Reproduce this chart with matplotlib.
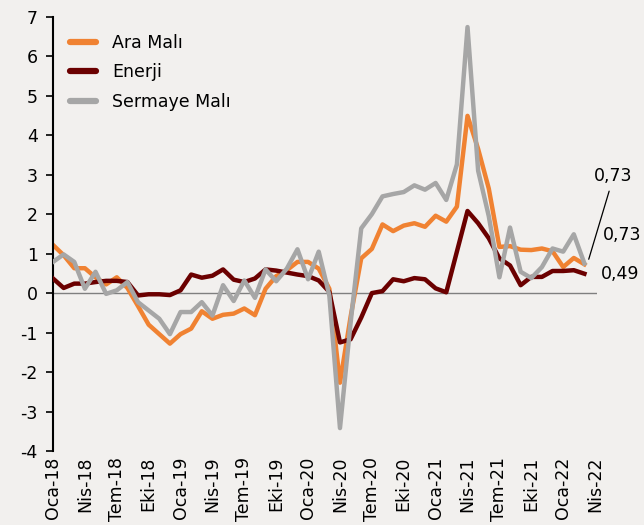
import numpy as np
import matplotlib
matplotlib.use("Agg")
import matplotlib.pyplot as plt

# monthly values, Oca-18 .. Mar-22
ara_mali = [1.22, 0.96, 0.63, 0.63, 0.40, 0.22, 0.40, 0.13, -0.33, -0.80,
            -1.04, -1.28, -1.04, -0.90, -0.46, -0.65, -0.55, -0.52, -0.39, -0.56,
            0.11, 0.43, 0.58, 0.79, 0.79, 0.62, 0.11, -2.27, -0.60, 0.88,
            1.12, 1.74, 1.57, 1.71, 1.77, 1.68, 1.96, 1.81, 2.19, 4.49,
            3.65, 2.65, 1.17, 1.19, 1.10, 1.09, 1.13, 1.06, 0.66, 0.89, 0.73]
enerji = [0.37, 0.13, 0.24, 0.24, 0.28, 0.31, 0.31, 0.28, -0.06, -0.03,
          -0.03, -0.05, 0.07, 0.47, 0.39, 0.44, 0.60, 0.34, 0.28, 0.37,
          0.60, 0.57, 0.52, 0.47, 0.43, 0.32, 0.03, -1.25, -1.17, -0.62,
          0.00, 0.05, 0.35, 0.30, 0.38, 0.35, 0.12, 0.02, 1.05, 2.08,
          1.77, 1.39, 0.88, 0.70, 0.20, 0.41, 0.41, 0.56, 0.56, 0.58, 0.49]
sermaye_mali = [0.79, 0.98, 0.79, 0.11, 0.54, -0.02, 0.07, 0.28, -0.23, -0.44,
                -0.65, -1.04, -0.48, -0.48, -0.23, -0.57, 0.20, -0.20, 0.32, -0.12,
                0.60, 0.30, 0.62, 1.11, 0.35, 1.05, -0.06, -3.42, -0.75, 1.64,
                2.00, 2.45, 2.51, 2.56, 2.73, 2.62, 2.79, 2.36, 3.26, 6.74,
                3.10, 1.95, 0.40, 1.66, 0.54, 0.38, 0.66, 1.13, 1.05, 1.49, 0.75]
tick_labels = ["Oca-18", "Nis-18", "Tem-18", "Eki-18", "Oca-19", "Nis-19",
               "Tem-19", "Eki-19", "Oca-20", "Nis-20", "Tem-20", "Eki-20",
               "Oca-21", "Nis-21", "Tem-21", "Eki-21", "Oca-22", "Nis-22"]
end_labels = ["0,73", "0,73", "0,49"]

bg = "#f2f0ee"
plt.rcParams["font.family"] = "DejaVu Sans"
plt.rcParams["axes.unicode_minus"] = False

fig = plt.figure(figsize=(6.44, 5.25), dpi=100, facecolor=bg)
ax = fig.add_axes([0.0823, 0.141, 0.845, 0.827], facecolor=bg)

x = np.arange(len(ara_mali))
ax.axhline(0, color="#7f7f7f", lw=1.0, zorder=1)
ax.plot(x, ara_mali, color="#f08232", lw=3.2, label="Ara Malı", zorder=2)
ax.plot(x, enerji, color="#6b0000", lw=3.2, label="Enerji", zorder=3)
ax.plot(x, sermaye_mali, color="#a6a6a6", lw=3.2, label="Sermaye Malı", zorder=4)

ax.set_xlim(0, 51.2)
ax.set_ylim(-4, 7)
ax.set_yticks(range(-4, 8))
ax.set_xticks(np.arange(0, 3 * len(tick_labels), 3))
ax.set_xticklabels(tick_labels, rotation=90, fontsize=12.5)
ax.tick_params(axis="x", length=0, pad=4)
ax.tick_params(axis="y", length=5, width=1.2, labelsize=12.5, pad=6)
for s in ["top", "right", "bottom"]:
    ax.spines[s].set_visible(False)
ax.spines["left"].set_linewidth(1.5)

leg = ax.legend(loc="upper left", bbox_to_anchor=(0.0, 1.0), frameon=False,
                fontsize=12.5, handlelength=1.5, labelspacing=0.65,
                borderaxespad=0.6, handletextpad=0.9)
for h in leg.legend_handles:
    h.set_linewidth(4.5)
    h.set_solid_capstyle("round")

# end-of-series value labels
ax.annotate("", xy=(50.33, 0.79), xytext=(52.4, 2.65),
            arrowprops=dict(arrowstyle="-", color="black", lw=0.9),
            annotation_clip=False)
ax.text(50.9, 2.96, end_labels[0], fontsize=12.5, va="center", ha="left", clip_on=False)
ax.text(51.74, 1.48, end_labels[1], fontsize=12.5, va="center", ha="left", clip_on=False)
ax.text(51.55, 0.48, end_labels[2], fontsize=12.5, va="center", ha="left", clip_on=False)

fig.savefig("out.png", dpi=100, facecolor=bg)
